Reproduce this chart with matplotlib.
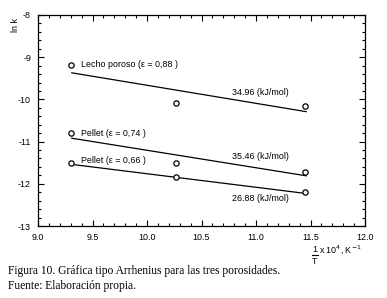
#!/usr/bin/env python3
"""
Gráfica tipo Arrhenius (ln k vs 1/T) para las tres porosidades
"""

import matplotlib
matplotlib.use("Agg")
import matplotlib.pyplot as plt
from matplotlib.lines import Line2D
from matplotlib.ticker import MultipleLocator

# datos
inv_t = [9.30, 10.27, 11.45]
lecho_088 = [-9.18, -10.09, -10.15]
pellet_074 = [-10.80, -11.51, -11.73]
pellet_066 = [-11.51, -11.85, -12.20]

# rectas de ajuste (extremos)
fit_x = [9.31, 11.46]
fit_088 = [-9.37, -10.29]
fit_074 = [-10.92, -11.81]
fit_066 = [-11.54, -12.23]

series_labels = ["Lecho poroso (ε = 0,88 )", "Pellet (ε = 0,74 )", "Pellet (ε = 0,66 )"]
label_y = [-9.18, -10.80, -11.44]
energies = ["34.96 (kJ/mol)", "35.46 (kJ/mol)", "26.88 (kJ/mol)"]
energy_y = [-9.84, -11.36, -12.34]

plt.rcParams['font.family'] = ['Liberation Sans', 'DejaVu Sans']

W, H = 387, 298
fig = plt.figure(figsize=(W / 100, H / 100), dpi=100)
ax = fig.add_axes([38 / W, 1 - 226 / H, (365 - 38) / W, (226 - 15) / H])

for ys, fy in zip([lecho_088, pellet_074, pellet_066], [fit_088, fit_074, fit_066]):
    ax.plot(fit_x, fy, color='black', linewidth=0.9)
    ax.plot(inv_t, ys, linestyle='none', marker='o', markersize=3.8,
            markerfacecolor='white', markeredgecolor='black', markeredgewidth=0.9)

for lab, y in zip(series_labels, label_y):
    ax.text(9.39, y, lab, fontsize=6.4, va='center', ha='left')
for lab, y in zip(energies, energy_y):
    ax.text(11.04, y, lab, fontsize=6.4, va='center', ha='center')

ax.set_xlim(9.0, 12.0)
ax.set_ylim(-13, -8)
ax.xaxis.set_major_locator(MultipleLocator(0.5))
ax.xaxis.set_minor_locator(MultipleLocator(0.1))
ax.yaxis.set_major_locator(MultipleLocator(1))
ax.yaxis.set_minor_locator(MultipleLocator(0.2))
ax.xaxis.set_major_formatter(plt.FuncFormatter(lambda v, p: f"{v:.1f}"))
ax.yaxis.set_major_formatter(plt.FuncFormatter(lambda v, p: f"{v:.0f}".replace('\u2212', '-')))
ax.tick_params(which='both', direction='in', top=True, right=True, labelsize=6.4, width=0.8)
ax.tick_params(which='major', length=4, pad=5)
ax.tick_params(which='minor', length=2)
for s in ax.spines.values():
    s.set_linewidth(0.9)

fig.text(15 / W, 1 - 25 / H, "ln k", rotation=90, fontsize=6.4, ha='center', va='center')

# etiqueta del eje x: fracción 1/T dibujada a mano
fig.text(315 / W, 1 - 250 / H, "1", fontsize=6.4, ha='center', va='center')
fig.add_artist(Line2D([312 / W, 318 / W], [1 - 255 / H, 1 - 255 / H],
                      color='black', linewidth=0.8, transform=fig.transFigure))
fig.text(315 / W, 1 - 261.5 / H, "T", fontsize=6.4, ha='center', va='center')
fig.text(319 / W, 1 - 250 / H, r"x 10$^4$, K$^{-1}$", fontsize=6.4, ha='left', va='center')

fig.text(8 / W, 1 - 271 / H, "Figura 10. Gráfica tipo Arrhenius para las tres porosidades.",
         family=['Liberation Serif', 'DejaVu Serif'], fontsize=8.3, va='center')
fig.text(8 / W, 1 - 286 / H, "Fuente: Elaboración propia.",
         family=['Liberation Serif', 'DejaVu Serif'], fontsize=8.3, va='center')

fig.savefig("out.png", dpi=100)
